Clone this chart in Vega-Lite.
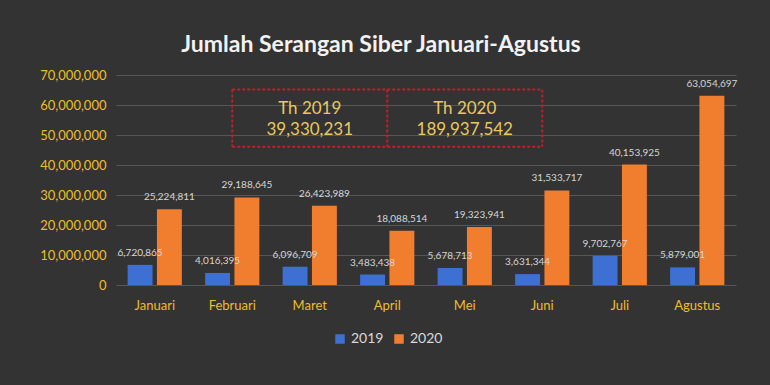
{
  "$schema": "https://vega.github.io/schema/vega-lite/v6.json",
  "width": 620,
  "height": 210,
  "autosize": {"type": "none"},
  "padding": {"left": 116, "top": 75, "right": 34, "bottom": 100},
  "background": "#333333",
  "title": {
    "text": "Jumlah Serangan Siber Januari-Agustus",
    "font": "Lato",
    "fontSize": 23,
    "fontWeight": "bold",
    "color": "#f2f2f2",
    "anchor": "middle",
    "frame": "group",
    "dx": -45,
    "offset": 12
  },
  "config": {"view": {"stroke": null}, "font": "Lato"},
  "datasets": {
    "bars": [
      {"month": "Januari", "year": "2019", "value": 6720865},
      {"month": "Januari", "year": "2020", "value": 25224811},
      {"month": "Februari", "year": "2019", "value": 4016395},
      {"month": "Februari", "year": "2020", "value": 29188645},
      {"month": "Maret", "year": "2019", "value": 6096709},
      {"month": "Maret", "year": "2020", "value": 26423989},
      {"month": "April", "year": "2019", "value": 3483438},
      {"month": "April", "year": "2020", "value": 18088514},
      {"month": "Mei", "year": "2019", "value": 5678713},
      {"month": "Mei", "year": "2020", "value": 19323941},
      {"month": "Juni", "year": "2019", "value": 3631344},
      {"month": "Juni", "year": "2020", "value": 31533717},
      {"month": "Juli", "year": "2019", "value": 9702767},
      {"month": "Juli", "year": "2020", "value": 40153925},
      {"month": "Agustus", "year": "2019", "value": 5879001},
      {"month": "Agustus", "year": "2020", "value": 63054697}
    ],
    "box": [
      {"seg": "top", "k": 1, "month": "Februari", "value": 65200000},
      {"seg": "top", "k": 2, "month": "Juni", "value": 65200000},
      {"seg": "bottom", "k": 1, "month": "Februari", "value": 46100000},
      {"seg": "bottom", "k": 2, "month": "Juni", "value": 46100000},
      {"seg": "left", "k": 1, "month": "Februari", "value": 65200000},
      {"seg": "left", "k": 2, "month": "Februari", "value": 46100000},
      {"seg": "mid", "k": 1, "month": "April", "value": 65200000},
      {"seg": "mid", "k": 2, "month": "April", "value": 46100000},
      {"seg": "right", "k": 1, "month": "Juni", "value": 65200000},
      {"seg": "right", "k": 2, "month": "Juni", "value": 46100000}
    ],
    "totals": [
      {"month": "Maret", "label": "Th 2019", "value": 58700000},
      {"month": "Maret", "label": "39,330,231", "value": 51700000},
      {"month": "Mei", "label": "Th 2020", "value": 58700000},
      {"month": "Mei", "label": "189,937,542", "value": 51700000}
    ]
  },
  "encoding": {
    "x": {
      "field": "month",
      "type": "nominal",
      "scale": {
        "domain": ["Januari", "Februari", "Maret", "April", "Mei", "Juni", "Juli", "Agustus"],
        "paddingInner": 0.3,
        "paddingOuter": 0.15
      },
      "axis": {
        "title": null,
        "labelAngle": 0,
        "labelColor": "#efbd2c",
        "labelFontSize": 13,
        "labelPadding": 14,
        "ticks": false,
        "domain": false
      }
    },
    "y": {
      "field": "value",
      "type": "quantitative",
      "scale": {"domain": [0, 70000000], "nice": false},
      "axis": {
        "title": null,
        "values": [0, 10000000, 20000000, 30000000, 40000000, 50000000, 60000000, 70000000],
        "format": ",.0f",
        "labelColor": "#efbd2c",
        "labelFontSize": 13,
        "labelPadding": 10,
        "ticks": false,
        "domain": false,
        "gridColor": "#575757",
        "gridWidth": 1
      }
    }
  },
  "layer": [
    {
      "data": {"name": "bars"},
      "mark": {"type": "bar"},
      "encoding": {
        "xOffset": {
          "field": "year",
          "type": "nominal",
          "scale": {"paddingInner": 0.15, "paddingOuter": 0}
        },
        "color": {
          "field": "year",
          "type": "nominal",
          "scale": {"domain": ["2019", "2020"], "range": ["#3d70d2", "#f07e2e"]},
          "legend": {
            "title": null,
            "orient": "none",
            "legendX": 217,
            "legendY": 257,
            "direction": "horizontal",
            "symbolType": "square",
            "symbolSize": 90,
            "symbolStrokeWidth": 0,
            "labelColor": "#d9d9d9",
            "labelFontSize": 14,
            "labelOffset": 4,
            "columnPadding": 8
          }
        }
      }
    },
    {
      "data": {"name": "bars"},
      "mark": {"type": "text", "dy": -12, "fontSize": 10, "color": "#d6d6d6"},
      "encoding": {
        "xOffset": {"field": "year", "type": "nominal"},
        "text": {"field": "value", "type": "quantitative", "format": ","}
      }
    },
    {
      "data": {"name": "box"},
      "mark": {"type": "line", "color": "#c01f2c", "strokeWidth": 2, "strokeDash": [3, 2]},
      "encoding": {
        "detail": {"field": "seg", "type": "nominal"},
        "order": {"field": "k", "type": "quantitative"}
      }
    },
    {
      "data": {"name": "totals"},
      "mark": {"type": "text", "fontSize": 17, "color": "#e9c862", "baseline": "middle"},
      "encoding": {
        "text": {"field": "label", "type": "nominal"}
      }
    }
  ]
}
